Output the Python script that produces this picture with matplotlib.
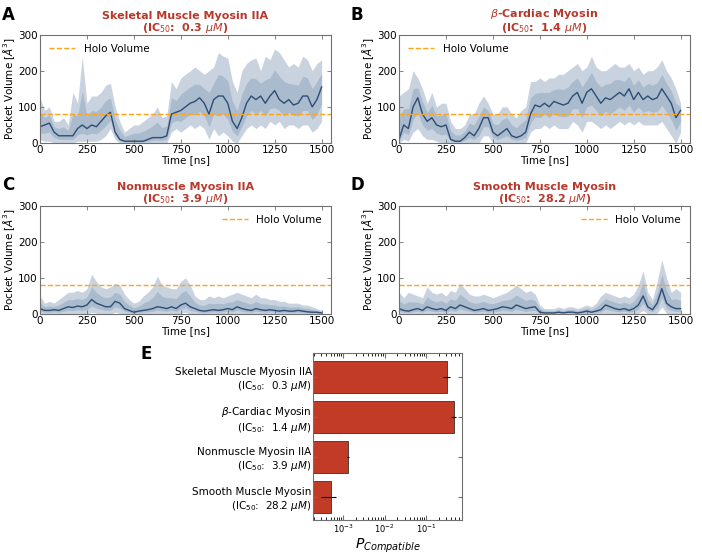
import numpy as np
import matplotlib
matplotlib.use("Agg")
import matplotlib.pyplot as plt

TITLES = ["Skeletal Muscle Myosin IIA", r"$\beta$-Cardiac Myosin", "Nonmuscle Myosin IIA", "Smooth Muscle Myosin"]
IC50 = ["0.3", "1.4", "3.9", "28.2"]
HOLO = 80

time_ns = np.arange(0, 1501, 25)

mean_a = [45, 50, 55, 30, 20, 20, 20, 20, 40, 50, 40, 50, 45, 60, 75, 85, 30, 10, 5, 5, 5, 5, 5, 10, 15, 15, 15, 20,
          80, 85, 90, 100, 110, 115, 125, 110, 80, 120, 130, 130, 110, 60, 40, 70, 110, 130, 120, 130, 110, 130,
          145, 120, 110, 120, 105, 110, 130, 130, 100, 120, 155]
hi_a = [125, 90, 100, 60, 60, 70, 50, 140, 110, 240, 110, 130, 130, 140, 160, 165, 100, 60, 30, 40, 50, 50, 60, 70,
        80, 100, 70, 75, 170, 150, 180, 190, 200, 210, 200, 190, 200, 210, 250, 240, 235, 170, 140, 200, 220, 230,
        235, 200, 240, 230, 260, 250, 230, 210, 220, 210, 240, 230, 200, 220, 230]
lo_a = [10, 5, 5, 0, 0, 0, 0, 0, 5, 5, 5, 5, 5, 10, 20, 40, 10, 0, 0, 0, 0, 0, 0, 0, 0, 0, 0, 0,
        30, 40, 30, 40, 50, 40, 50, 40, 10, 40, 20, 30, 20, 5, 0, 20, 40, 50, 40, 50, 40, 60,
        50, 60, 40, 50, 50, 40, 50, 50, 30, 40, 60]

mean_b = [10, 50, 40, 100, 125, 80, 60, 70, 50, 45, 50, 10, 5, 5, 15, 30, 20, 40, 70, 70, 30, 20, 30, 40, 20, 15, 20, 30,
          80, 105, 100, 110, 100, 115, 110, 105, 110, 130, 140, 110, 140, 150, 130, 110, 125, 120, 130, 140, 130, 150,
          120, 140, 120, 130, 120, 125, 150, 130, 110, 70, 90]
hi_b = [130, 140, 150, 200, 180, 150, 110, 140, 100, 110, 110, 60, 40, 40, 50, 80, 80, 110, 130, 110, 80, 80, 100, 100,
        80, 70, 90, 100, 170, 170, 180, 170, 180, 180, 190, 190, 200, 210, 220, 200, 210, 240, 210, 200, 200, 210,
        220, 210, 210, 220, 200, 210, 190, 200, 200, 210, 230, 200, 180, 150, 110]
lo_b = [0, 10, 5, 30, 40, 20, 10, 10, 5, 0, 0, 0, 0, 0, 0, 0, 0, 0, 20, 20, 0, 0, 0, 0, 0, 0, 0, 0,
        30, 40, 40, 50, 40, 50, 40, 40, 40, 60, 50, 30, 60, 60, 50, 40, 50, 40, 50, 60, 50, 60,
        50, 60, 50, 50, 50, 50, 60, 40, 20, 0, 30]

mean_c = [15, 10, 10, 12, 10, 15, 20, 18, 22, 20, 25, 40, 30, 25, 20, 20, 35, 30, 15, 10, 5, 8, 10, 12, 15, 20, 18, 15,
          20, 15, 25, 30, 20, 15, 10, 8, 10, 12, 10, 12, 15, 12, 20, 15, 12, 10, 15, 12, 10, 12, 10, 8, 10, 8, 8,
          10, 8, 6, 5, 5, 3]
hi_c = [50, 30, 35, 30, 40, 50, 60, 60, 65, 60, 70, 110, 90, 75, 70, 75, 85, 80, 55, 40, 30, 35, 50, 60, 75, 105, 80,
        75, 70, 70, 90, 100, 80, 50, 40, 40, 50, 45, 50, 45, 50, 55, 60, 55, 50, 45, 55, 45, 45, 40, 40, 35, 35, 30,
        30, 30, 25, 25, 20, 15, 10]
lo_c = [0, 0, 0, 0, 0, 0, 0, 0, 2, 0, 0, 5, 2, 0, 0, 0, 5, 2, 0, 0, 0, 0, 0, 0, 0, 2, 0, 0,
        0, 0, 2, 5, 0, 0, 0, 0, 0, 0, 0, 0, 0, 0, 2, 0, 0, 0, 0, 0, 0, 0, 0, 0, 0, 0, 0,
        0, 0, 0, 0, 0, 0]

mean_d = [15, 10, 8, 12, 15, 10, 20, 15, 12, 15, 10, 20, 15, 25, 20, 15, 10, 12, 15, 10, 12, 15, 20, 18, 15, 25, 20, 15,
          18, 20, 5, 3, 3, 3, 5, 3, 5, 5, 3, 5, 8, 5, 8, 12, 25, 20, 15, 12, 15, 10, 15, 25, 50, 20, 12,
          30, 70, 30, 20, 15, 15]
hi_d = [60, 45, 60, 55, 50, 45, 75, 60, 55, 60, 50, 65, 60, 85, 70, 55, 50, 50, 55, 50, 45, 50, 55, 60, 70, 80, 70,
        60, 65, 55, 25, 15, 15, 15, 20, 15, 20, 20, 15, 20, 25, 20, 30, 50, 60, 55, 50, 45, 50, 45, 55, 80, 120,
        60, 40, 90, 150, 100, 60, 70, 60]
lo_d = [0, 0, 0, 0, 0, 0, 0, 0, 0, 0, 0, 0, 0, 2, 0, 0, 0, 0, 0, 0, 0, 0, 0, 0, 0, 2, 0, 0,
        0, 0, 0, 0, 0, 0, 0, 0, 0, 0, 0, 0, 0, 0, 0, 0, 2, 0, 0, 0, 0, 0, 0, 2, 10, 0, 0,
        2, 20, 2, 0, 0, 0]

series = [(mean_a, lo_a, hi_a), (mean_b, lo_b, hi_b), (mean_c, lo_c, hi_c), (mean_d, lo_d, hi_d)]

# panel E
p_compat = [0.32, 0.47, 1.3e-3, 4.9e-4]
p_low = [0.255, 0.40, 1.25e-3, 2.8e-4]
p_high = [0.376, 0.51, 1.36e-3, 6.8e-4]

RED = "#b8392b"
BAR = "#c23b27"
BAND = "#93a8c0"
LINE = "#2e4d73"
SPINE = "#707070"

plt.rcParams["font.family"] = "DejaVu Sans"
plt.rcParams["xtick.direction"] = "in"
plt.rcParams["ytick.direction"] = "in"
plt.rcParams["xtick.top"] = True
plt.rcParams["ytick.right"] = True

fig = plt.figure(figsize=(7.02, 5.55), dpi=100)


def ic_label(name, ic):
    return name + "\n(IC$_{\\rm 50}$:  " + ic + r" $\mu M$)"


boxes = [(0.057, 0.7423), (0.5684, 0.7423), (0.057, 0.4342), (0.5684, 0.4342)]
for i, (left, bottom) in enumerate(boxes):
    ax = fig.add_axes([left, bottom, 0.4145, 0.1955])
    mean, lo, hi = series[i]
    ax.fill_between(time_ns, lo, hi, color=BAND, alpha=0.5, lw=0)
    ax.fill_between(time_ns, np.array(lo) * 0.5 + np.array(mean) * 0.5, np.array(hi) * 0.5 + np.array(mean) * 0.5,
                    color=BAND, alpha=0.55, lw=0)
    ax.plot(time_ns, mean, color=LINE, lw=1.0)
    ax.axhline(HOLO, ls="--", color="#ffa31a", lw=1.0, label="Holo Volume")
    ax.set_xlim(0, 1550)
    ax.set_ylim(0, 300)
    ax.set_xticks([0, 250, 500, 750, 1000, 1250, 1500])
    ax.set_yticks([0, 100, 200, 300])
    ax.tick_params(labelsize=7.5, length=3, width=0.6, pad=1.5, color=SPINE)
    for s in ax.spines.values():
        s.set_color(SPINE)
        s.set_linewidth(0.8)
    ax.set_xlabel("Time [ns]", fontsize=7.5, labelpad=0)
    ax.set_ylabel(r"Pocket Volume [$\AA^3$]", fontsize=7.5, labelpad=1)
    ax.set_title(ic_label(TITLES[i], IC50[i]), color=RED, fontsize=8, fontweight="bold", pad=2, linespacing=1.0)
    ax.legend(loc="upper left" if i < 2 else "upper right", frameon=False, fontsize=7.5, handlelength=2.5)

for lab, x, y in [("A", 0.003, 0.99), ("B", 0.5, 0.99), ("C", 0.003, 0.683), ("D", 0.5, 0.683), ("E", 0.2, 0.378)]:
    fig.text(x, y, lab, fontsize=12, fontweight="bold", va="top")

axe = fig.add_axes([0.4459, 0.0631, 0.2123, 0.3009])
ypos = np.arange(len(TITLES))
xerr = [np.array(p_compat) - np.array(p_low), np.array(p_high) - np.array(p_compat)]
axe.barh(ypos, p_compat, height=0.8, left=1e-5, color=BAR, edgecolor="#333333", lw=0.6,
         xerr=xerr, error_kw=dict(ecolor="black", elinewidth=0.8, capsize=0))
axe.set_xscale("log")
axe.set_xlim(1.9e-4, 0.72)
axe.set_ylim(3.575, -0.6)
axe.set_yticks(ypos)
axe.set_yticklabels([ic_label(t, c) for t, c in zip(TITLES, IC50)], fontsize=7.5, ha="right")
axe.set_xticks([1e-3, 1e-2, 1e-1])
axe.tick_params(axis="x", labelsize=6, pad=2, color=SPINE)
axe.tick_params(axis="y", length=3, pad=1, color=SPINE)
for s in axe.spines.values():
    s.set_color(SPINE)
    s.set_linewidth(0.8)
axe.set_xlabel(r"$P_{Compatible}$", fontsize=10, labelpad=1)

fig.savefig("out.png", dpi=100)
